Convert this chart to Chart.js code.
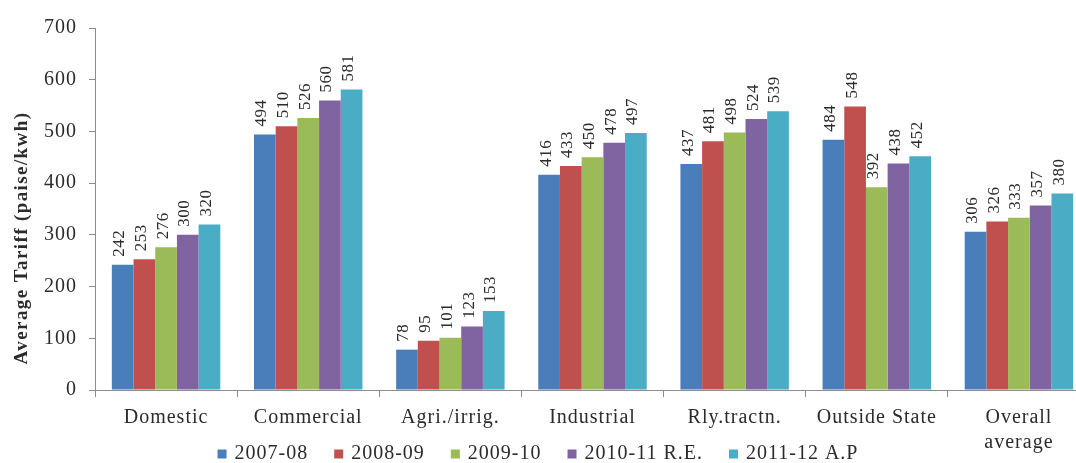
<!DOCTYPE html>
<html>
<head>
<meta charset="utf-8">
<script src="https://cdn.jsdelivr.net/npm/chart.js@4.4.1/dist/chart.umd.min.js"></script>
<style>
  html, body { margin: 0; padding: 0; background: #fff; overflow: hidden; }
  #wrap { width: 1076px; height: 463px; position: relative; overflow: hidden; }
</style>
</head>
<body>
<div id="wrap"><canvas id="c" width="1090" height="463"></canvas></div>
<script>
const categories = ['Domestic', 'Commercial', 'Agri./irrig.', 'Industrial', 'Rly.tractn.', 'Outside State', ['Overall', 'average']];
const seriesNames = ['2007-08', '2008-09', '2009-10', '2010-11 R.E.', '2011-12 A.P'];
const v2007 = [242, 494, 78, 416, 437, 484, 306];
const v2008 = [253, 510, 95, 433, 481, 548, 326];
const v2009 = [276, 526, 101, 450, 498, 392, 333];
const v2010 = [300, 560, 123, 478, 524, 438, 357];
const v2011 = [320, 581, 153, 497, 539, 452, 380];
const yTicks = [0, 100, 200, 300, 400, 500, 600, 700];
const yTitle = 'Average Tariff (paise/kwh)';

const colors = ['#4A7EBB', '#C0504D', '#9BBB59', '#8064A2', '#4BACC6'];
const FONT = '"Liberation Serif", "Times New Roman", serif';
const TEXT = '#2b2b2b';
const AXIS = '#8c8c8c';
const wrap = document.getElementById('wrap');

// Slightly open letter spacing for all canvas text
const spacing = {
  id: 'spacing',
  beforeUpdate(chart) { chart.ctx.letterSpacing = '1px'; },
  beforeLayout(chart) { chart.ctx.letterSpacing = '1px'; },
  beforeDraw(chart) { chart.ctx.letterSpacing = '1px'; }
};

// Rotated value labels above each bar
const valueLabels = {
  id: 'valueLabels',
  afterDatasetsDraw(chart) {
    const ctx = chart.ctx;
    ctx.save();
    ctx.letterSpacing = '0.5px';
    ctx.font = '17px ' + FONT;
    ctx.fillStyle = TEXT;
    ctx.textAlign = 'left';
    ctx.textBaseline = 'middle';
    chart.data.datasets.forEach((ds, i) => {
      const meta = chart.getDatasetMeta(i);
      meta.data.forEach((bar, j) => {
        ctx.save();
        ctx.translate(bar.x - 3, bar.y - 8);
        ctx.rotate(-Math.PI / 2);
        ctx.fillText(String(ds.data[j]), 0, 0);
        ctx.restore();
      });
    });
    ctx.restore();
  }
};

// Vertical axis title, drawn rotated beside the tick labels
const axisTitle = {
  id: 'axisTitle',
  afterDraw(chart) {
    const ctx = chart.ctx;
    ctx.save();
    ctx.letterSpacing = '1.4px';
    ctx.font = 'bold 19px ' + FONT;
    ctx.fillStyle = TEXT;
    ctx.textAlign = 'center';
    ctx.textBaseline = 'middle';
    ctx.translate(22, 238);
    ctx.rotate(-Math.PI / 2);
    ctx.fillText(yTitle, 0, 0);
    ctx.restore();
  }
};

// Legend row along the bottom edge, centred in the visible frame
const bottomLegend = {
  id: 'bottomLegend',
  afterDraw(chart) {
    const ctx = chart.ctx;
    ctx.save();
    ctx.letterSpacing = '1px';
    ctx.font = '20px ' + FONT;
    ctx.textBaseline = 'middle';
    ctx.textAlign = 'left';
    const box = 9, gap = 8, itemGap = 26;
    const items = chart.data.datasets.map(ds => ({
      label: ds.label, color: ds.backgroundColor, w: ctx.measureText(ds.label).width
    }));
    const total = items.reduce((s, it) => s + box + gap + it.w, 0) + itemGap * (items.length - 1);
    let x = wrap.clientWidth / 2 - total / 2;
    const y = 454;
    items.forEach(it => {
      ctx.fillStyle = it.color;
      ctx.fillRect(x, y - box / 2, box, box);
      ctx.fillStyle = TEXT;
      ctx.fillText(it.label, x + box + gap, y);
      x += box + gap + it.w + itemGap;
    });
    ctx.restore();
  }
};

const datasets = [v2007, v2008, v2009, v2010, v2011].map((d, i) => ({
  label: seriesNames[i],
  data: d,
  backgroundColor: colors[i],
  borderWidth: 0,
  categoryPercentage: 0.763,
  barPercentage: 1.0
}));

new Chart(document.getElementById('c'), {
  type: 'bar',
  data: { labels: categories, datasets },
  options: {
    responsive: false,
    animation: false,
    layout: { padding: { top: 28, right: 0, left: 0, bottom: 0 } },
    plugins: {
      legend: { display: false },
      tooltip: { enabled: false }
    },
    scales: {
      x: {
        grid: { display: true, drawOnChartArea: false, offset: true, tickLength: 7, color: AXIS },
        border: { color: AXIS, width: 1 },
        ticks: { font: { family: FONT, size: 20, lineHeight: 1.25 }, color: TEXT, maxRotation: 0, autoSkip: false, padding: 8 },
        afterFit(scale) { scale.height = 73; }
      },
      y: {
        min: 0, max: 700,
        afterBuildTicks(scale) { scale.ticks = yTicks.map(v => ({ value: v })); },
        grid: { display: true, drawOnChartArea: false, tickLength: 6, color: AXIS },
        border: { color: AXIS, width: 1 },
        ticks: { font: { family: FONT, size: 20 }, color: TEXT, padding: 12 },
        afterFit(scale) { scale.width = 95; }
      }
    }
  },
  plugins: [spacing, valueLabels, axisTitle, bottomLegend]
});
</script>
</body>
</html>
